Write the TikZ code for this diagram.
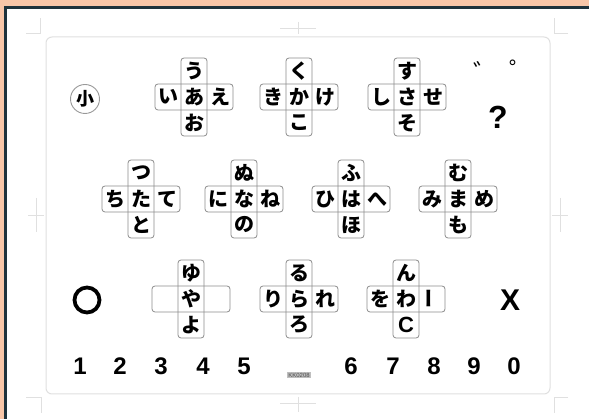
\documentclass[tikz,border=0pt]{standalone}
\usepackage{fontspec}
\setmainfont{Liberation Sans}
\newfontfamily\jp{Noto Sans CJK JP}
\usepackage{graphicx}
\definecolor{peach}{HTML}{F8C6A8}
\definecolor{darkline}{HTML}{1E323C}
\newcommand\kcl[8]{%
\begin{scope}[shift={(#2,#3)}]
\draw[bar] (-39,-13) rectangle (39,13);
\draw[bar] (-13,-39) rectangle (13,39);
\node[kana] (#1c) at (0,0) {#4};
\node[kana] (#1u) at (0,-26) {#5};
\node[kana] (#1d) at (0,26) {#6};
\node[kana] (#1l) at (-26,0) {#7};
\node[kana] (#1r) at (26,0) {#8};
\end{scope}}
\begin{document}
\begin{tikzpicture}[x=1pt,y=-1pt,
  bar/.style={draw=black!45, line width=0.8pt, rounded corners=3pt},
  kana/.style={font=\jp\bfseries\fontsize{20}{20}\selectfont, inner sep=0pt},
  digit/.style={font=\bfseries\fontsize{24}{24}\selectfont, inner sep=0pt},
  crop/.style={draw=black!12, line width=0.8pt}]
\useasboundingbox (0,0) rectangle (589,419);
\fill[peach] (0,0) rectangle (589,419);
\fill[white] (7,9) rectangle (589,419);
\draw[darkline, line width=3pt] (5.5,419) -- (5.5,7.5) -- (589,7.5);
% card
\draw[draw=black!12, line width=1pt, rounded corners=6pt] (46,37) rectangle (550,394);
% crop marks
\draw[crop] (26,33) -- (40,33) -- (40,18);
\draw[crop] (568,33) -- (554,33) -- (554,18);
\draw[crop] (26,397) -- (41,397) -- (41,413);
\draw[crop] (568,397) -- (554,397) -- (554,413);
\draw[crop] (280,28) -- (316,28);
\draw[crop] (298,22) -- (298,34);
\draw[crop] (36,198) -- (36,232);
\draw[crop] (28,215) -- (44,215);
\draw[crop] (560,198) -- (560,232);
\draw[crop] (552,215) -- (568,215);
\draw[crop] (280,403) -- (316,403);
\draw[crop] (298,397) -- (298,412);
% small mark
\node[circle, draw=black!40, line width=0.9pt, minimum size=29pt, inner sep=0pt,
  font=\jp\bfseries\fontsize{18}{18}\selectfont] (small) at (85,99) {小};
% clusters
\kcl{a}{194}{97}{あ}{う}{お}{い}{え}
\kcl{ka}{299}{97}{か}{く}{こ}{き}{け}
\kcl{sa}{407}{97}{さ}{す}{そ}{し}{せ}
\kcl{ta}{141}{199}{た}{つ}{と}{ち}{て}
\kcl{na}{244}{199}{な}{ぬ}{の}{に}{ね}
\kcl{ha}{351}{199}{は}{ふ}{ほ}{ひ}{へ}
\kcl{ma}{458}{199}{ま}{む}{も}{み}{め}
\kcl{ya}{191}{299}{や}{ゆ}{よ}{}{}
\kcl{ra}{299}{299}{ら}{る}{ろ}{り}{れ}
\kcl{wa}{406}{299}{わ}{ん}{{\normalfont\bfseries\fontsize{22}{22}\selectfont C}}{を}{\rotatebox{90}{ー}}
% marks
\node[font=\jp\fontsize{25}{25}\selectfont, inner sep=0pt] (dakuten) at (486,72) {゛};
\node[font=\jp\fontsize{25}{25}\selectfont, inner sep=0pt] (handaku) at (522,70) {゜};
\node[font=\bfseries\fontsize{32}{32}\selectfont, inner sep=0pt] (q) at (498,117) {?};
\node[circle, draw=black, line width=3.8pt, minimum size=25pt, inner sep=0pt] (maru) at (87,300) {};
\node[font=\bfseries\fontsize{30}{30}\selectfont, inner sep=0pt] (batsu) at (510,300) {X};
% digits
\node[digit] (d1) at (80,366) {1};
\node[digit] (d2) at (120,366) {2};
\node[digit] (d3) at (161,366) {3};
\node[digit] (d4) at (203,366) {4};
\node[digit] (d5) at (244,366) {5};
\node[fill=black!25, inner xsep=1pt, inner ysep=1pt, font=\fontsize{6}{6}\selectfont, text=black!70] (code) at (299,375) {KK0208};
\node[digit] (d6) at (351,366) {6};
\node[digit] (d7) at (393,366) {7};
\node[digit] (d8) at (434,366) {8};
\node[digit] (d9) at (474,366) {9};
\node[digit] (d0) at (514,366) {0};
\end{tikzpicture}
\end{document}
